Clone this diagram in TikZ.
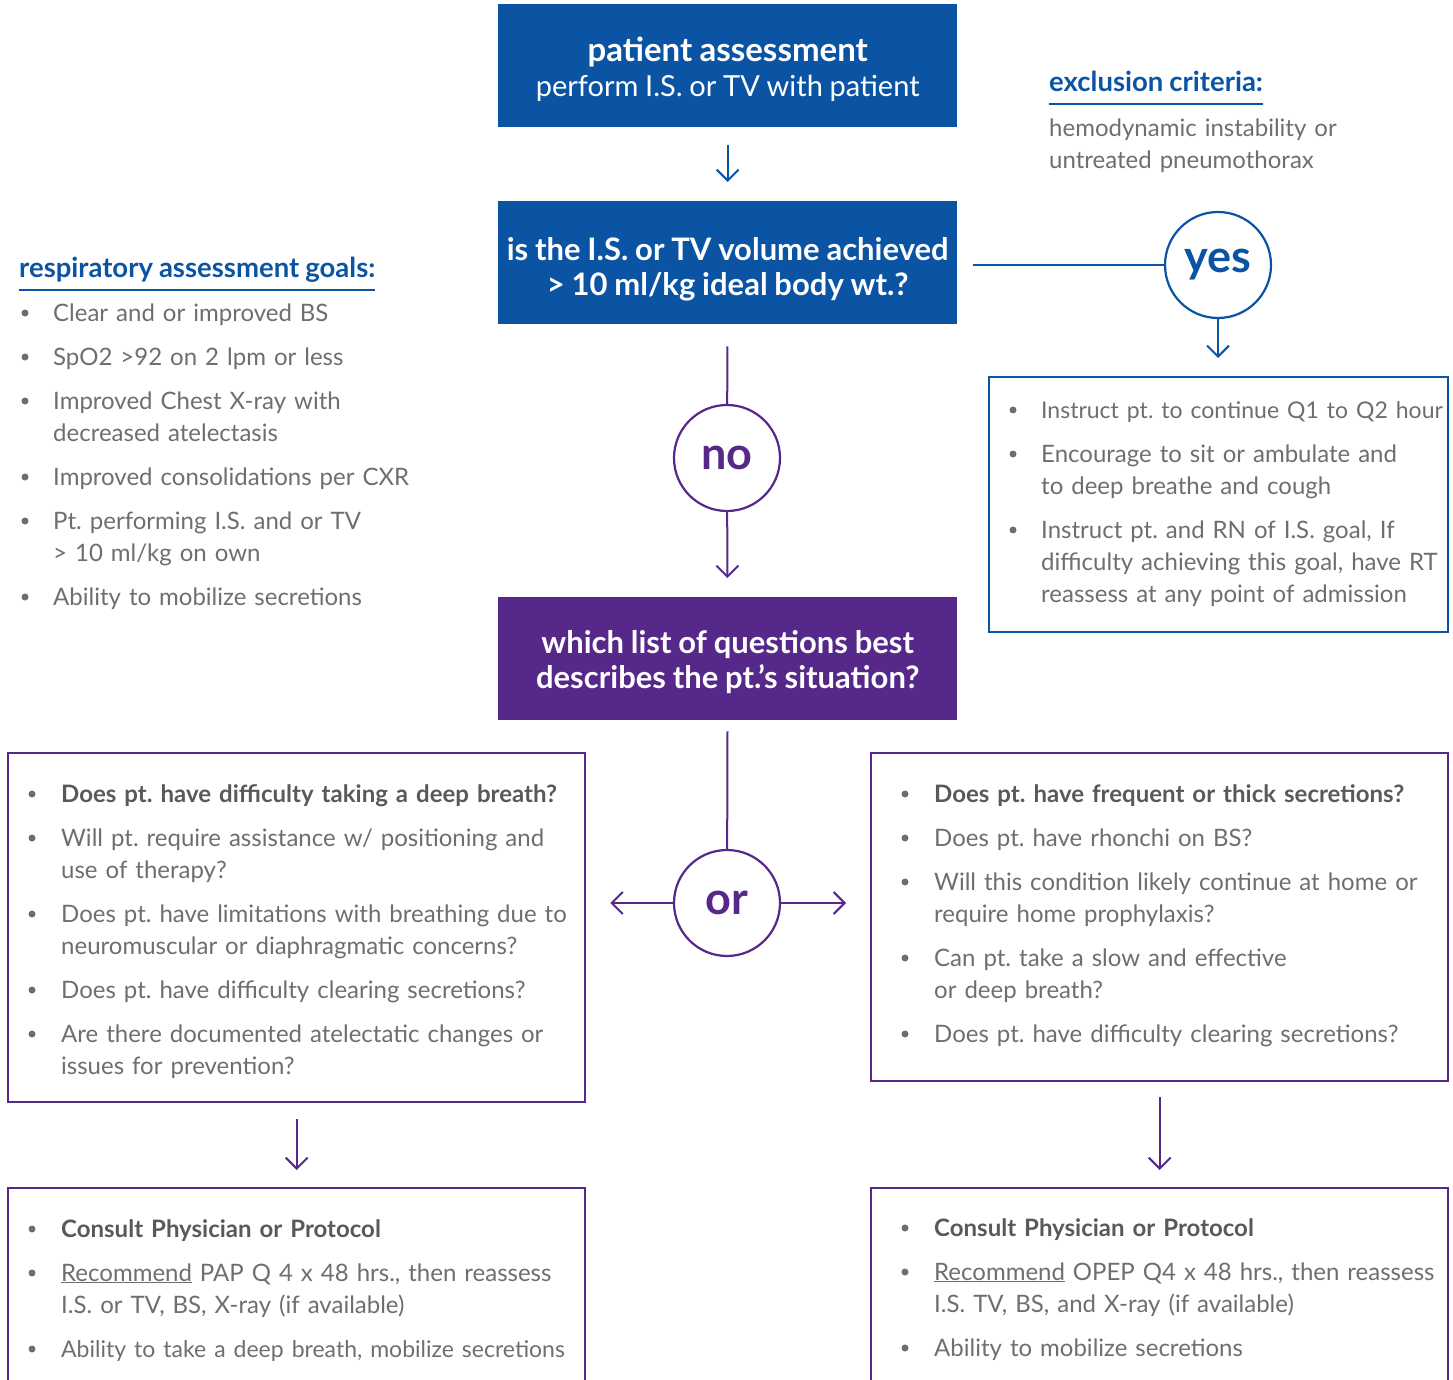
\documentclass[tikz,border=0pt]{standalone}
\usepackage{fontspec}
\setmainfont{Lato}[WordSpace=0.9]
\usetikzlibrary{arrows.meta}

\definecolor{ptblue}{HTML}{0B54A4}
\definecolor{ptpurple}{HTML}{55288A}
\definecolor{txtgray}{HTML}{6E6E6E}
\definecolor{hdgray}{HTML}{595959}

\newcommand{\qhead}[1]{\textcolor{hdgray}{\bfseries #1}}
\frenchspacing

\tikzset{
  stepbox/.style={fill=#1, text=white, minimum width=459pt, minimum height=123pt,
    inner sep=0pt, align=center, anchor=north west, font=\fontsize{31}{35}\selectfont\bfseries},
  listbox/.style={draw=#1, line width=2.4pt, anchor=north west, inner sep=0pt},
  answer/.style={circle, draw=#1, text=#1, line width=2.2pt, fill=white,
    minimum size=106pt, inner sep=0pt, font=\fontsize{45}{45}\selectfont\bfseries},
  flowline/.style={draw=#1, line width=2pt},
  flowarrow/.style={flowline=#1, -{Straight Barb[length=11pt,width=22pt]}},
  dot/.style={circle, fill=txtgray, minimum size=7pt, inner sep=0pt},
  listitem/.style={anchor=base west, inner sep=0pt, text width=620pt, align=left,
    text=txtgray, font=\fontsize{24}{32}\selectfont},
  heading/.style={anchor=base west, inner sep=0pt, text=ptblue, font=\fontsize{27.5}{30}\selectfont\bfseries},
}

\begin{document}
\begin{tikzpicture}[x=1pt, y=-1pt]
\clip (0,0) rectangle (1453,1380);

% main column
\node[stepbox=ptblue, font=\fontsize{29}{35}\selectfont, text height=66pt] (assess) at (498,4)
  {{\bfseries\fontsize{33}{35}\selectfont patient assessment}\\perform I.S. or TV with patient};
\node[stepbox=ptblue, text height=72pt] (volume) at (498,201) {is the I.S. or TV volume achieved\\> 10 ml/kg ideal body wt.?};
\node[stepbox=ptpurple, text height=64pt] (which) at (498,597) {which list of questions best\\describes the pt.'s situation?};

\node[answer=ptblue] (yes) at (1218,265) {yes};
\node[answer=ptpurple] (no) at (727,458) {no};
\node[answer=ptpurple] (or) at (727,903) {or};

% boxes
\node[listbox=ptblue, minimum width=459pt, minimum height=255pt] (keepup) at (988,376) {};
\node[listbox=ptpurple, minimum width=577pt, minimum height=349pt] (deepq) at (7,752) {};
\node[listbox=ptpurple, minimum width=577pt, minimum height=328pt] (secq) at (870,752) {};
\node[listbox=ptpurple, minimum width=577pt, minimum height=260pt] (papplan) at (7,1187) {};
\node[listbox=ptpurple, minimum width=577pt, minimum height=260pt] (opepplan) at (870,1187) {};

% connectors
\draw[flowarrow=ptblue, shorten <=18pt, shorten >=19pt] (assess) -- (volume);
\draw[flowline=ptblue, shorten <=16pt] (volume.east |- yes.west) -- (yes);
\draw[flowarrow=ptblue, shorten >=18pt] (yes) -- (yes |- keepup.north);
\draw[flowline=ptpurple, shorten <=22pt] (volume) -- (no);
\draw[flowarrow=ptpurple, shorten >=19pt] (no) -- (which);
\draw[flowline=ptpurple, shorten <=11pt] (which) -- (or);
\draw[flowarrow=ptpurple, shorten >=24pt] (or) -- (or -| deepq.east);
\draw[flowarrow=ptpurple, shorten >=24pt] (or) -- (or -| secq.west);
\draw[flowarrow=ptpurple, shorten <=16pt, shorten >=17pt] (deepq) -- (papplan);
\draw[flowarrow=ptpurple, shorten <=15pt, shorten >=17pt] (secq) -- (opepplan);

% side notes
\node[heading] (exclh) at (1049,92) {exclusion criteria:};
\draw[flowline=ptblue, line width=1.5pt] ([yshift=-12pt]exclh.base west) -- ([yshift=-12pt]exclh.base east);
\node[listitem] (exclt) at (1049,137) {hemodynamic instability or\\untreated pneumothorax};

\node[heading] (goalsh) at (19,277) {respiratory assessment goals:};
\draw[flowline=ptblue, line width=1.5pt] ([yshift=-13pt]goalsh.base west) -- ([yshift=-13pt]goalsh.base east);
\foreach \y/\t [count=\i] in {313/{Clear and or improved BS}, 357/{SpO2 >92 on 2 lpm or less},
    401/{Improved Chest X-ray with\\decreased atelectasis}, 477/{Improved consolidations per CXR},
    521/{Pt. performing I.S. and or TV\\> 10 ml/kg on own}, 597/{Ability to mobilize secretions}} {
  \node[dot] (gd\i) at (25,\y) {};
  \node[listitem] (g\i) at (53,\y+8) {\t};
}

% yes list
\foreach \y/\t [count=\i] in {410/{\fontsize{23}{32}\selectfont Instruct pt. to continue Q1 to Q2 hour},
    454/{Encourage to sit or ambulate and\\to deep breathe and cough},
    530/{Instruct pt. and RN of I.S. goal, If\\difficulty achieving this goal, have RT\\reassess at any point of admission}} {
  \node[dot] (kd\i) at (1013,\y) {};
  \node[listitem] (k\i) at (1041,\y+8) {\t};
}

% question lists
\foreach \y/\t [count=\i] in {794/{\qhead{Does pt. have difficulty taking a deep breath?}},
    838/{Will pt. require assistance w/ positioning and\\use of therapy?},
    914/{Does pt. have limitations with breathing due to\\neuromuscular or diaphragmatic concerns?},
    990/{Does pt. have difficulty clearing secretions?},
    1034/{Are there documented atelectatic changes or\\issues for prevention?}} {
  \node[dot] (dd\i) at (32,\y) {};
  \node[listitem] (d\i) at (61,\y+8) {\t};
}
\foreach \y/\t [count=\i] in {794/{\qhead{Does pt. have frequent or thick secretions?}},
    838/{Does pt. have rhonchi on BS?},
    882/{Will this condition likely continue at home or\\require home prophylaxis?},
    958/{Can pt. take a slow and effective\\or deep breath?},
    1034/{Does pt. have difficulty clearing secretions?}} {
  \node[dot] (sd\i) at (905,\y) {};
  \node[listitem] (s\i) at (934,\y+8) {\t};
}

% plans
\foreach \y/\t [count=\i] in {1229/{\qhead{Consult Physician or Protocol}},
    1273/{\underline{Recommend} PAP Q 4 x 48 hrs., then reassess\\I.S. or TV, BS, X-ray (if available)},
    1349/{\fontsize{23}{32}\selectfont Ability to take a deep breath, mobilize secretions}} {
  \node[dot] (pd\i) at (32,\y) {};
  \node[listitem] (p\i) at (61,\y+8) {\t};
}
\foreach \y/\t [count=\i] in {1228/{\qhead{Consult Physician or Protocol}},
    1272/{\underline{Recommend} OPEP Q4 x 48 hrs., then reassess\\I.S. TV, BS, and X-ray (if available)},
    1348/{Ability to mobilize secretions}} {
  \node[dot] (od\i) at (905,\y) {};
  \node[listitem] (o\i) at (934,\y+8) {\t};
}
\end{tikzpicture}
\end{document}
